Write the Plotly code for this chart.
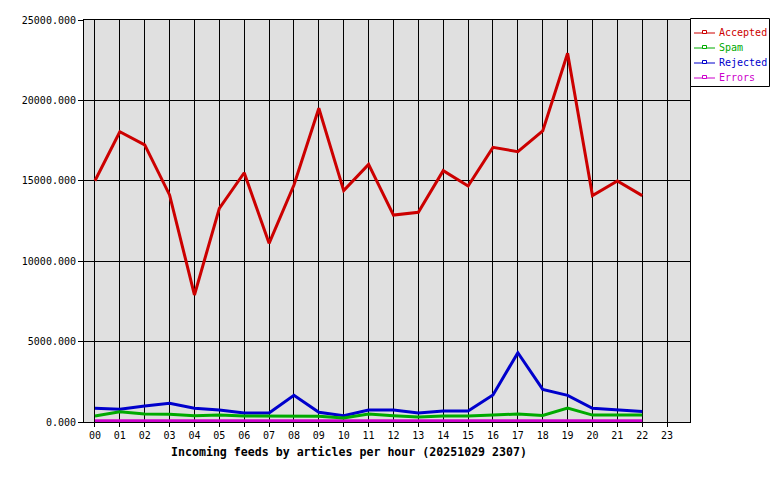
import plotly.graph_objects as go

hours = ["00", "01", "02", "03", "04", "05", "06", "07", "08", "09", "10", "11",
         "12", "13", "14", "15", "16", "17", "18", "19", "20", "21", "22", "23"]
x_data = list(range(23))  # hours 00..22 have data

accepted = [15000, 18050, 17230, 14120, 7900, 13290, 15500, 11110, 14740, 19510, 14390, 16020,
            12870, 13040, 15630, 14680, 17080, 16810, 18100, 22930, 14080, 14990, 14080]
spam = [370, 640, 500, 480, 390, 430, 370, 370, 350, 350, 250, 500,
        390, 310, 370, 370, 430, 500, 410, 870, 430, 430, 430]
rejected = [850, 790, 1000, 1160, 850, 750, 560, 560, 1660, 600, 390, 750,
            750, 560, 680, 680, 1680, 4310, 2030, 1660, 850, 750, 660]
errors = [80] * 23

series_names = ["Accepted", "Spam", "Rejected", "Errors"]
series_values = [accepted, spam, rejected, errors]
series_colors = ["#cc0000", "#00aa00", "#0000cc", "#cc00cc"]

W, H = 780, 480
ML, MR, MT, MB = 84, 90, 20, 58
PW, PH = W - ML - MR, H - MT - MB


def px_x(p):
    return (p - ML) / PW


def px_y(p):
    return (H - MB - p) / PH


fig = go.Figure()
for name, vals, col in reversed(list(zip(series_names, series_values, series_colors))):
    fig.add_trace(go.Scatter(
        x=x_data, y=vals, mode="lines", name=name,
        line=dict(color=col, width=3),
        showlegend=False,
    ))

FONT = "DejaVu Sans Mono"

# legend box (drawn in paper space, outside the plot area)
shapes = [dict(type="rect", xref="paper", yref="paper",
               x0=px_x(690.5), x1=px_x(769.5), y0=px_y(86.5), y1=px_y(18.5),
               line=dict(color="black", width=1), fillcolor="white", layer="above")]
annotations = []
for i, (name, col) in enumerate(zip(series_names, series_colors)):
    yy = 33 + i * 15
    shapes.append(dict(type="line", xref="paper", yref="paper",
                       x0=px_x(694), x1=px_x(715), y0=px_y(yy), y1=px_y(yy),
                       line=dict(color=col, width=1), layer="above"))
    shapes.append(dict(type="rect", xref="paper", yref="paper",
                       x0=px_x(702.5), x1=px_x(706.5), y0=px_y(yy + 0.5), y1=px_y(yy - 2.5),
                       line=dict(color=col, width=1), fillcolor="white", layer="above"))
    annotations.append(dict(text=name, xref="paper", yref="paper",
                            x=px_x(717), y=px_y(yy - 0.5), xanchor="left", yanchor="middle",
                            showarrow=False, font=dict(family=FONT, size=10, color=col)))

annotations.append(dict(
    text="<b>Incoming feeds by articles per hour (20251029 2307)</b>",
    xref="paper", yref="paper", x=px_x(349), y=px_y(452),
    xanchor="center", yanchor="middle", showarrow=False,
    font=dict(family=FONT, size=11.6, color="black"),
))

fig.update_layout(
    width=W, height=H,
    margin=dict(l=ML, r=MR, t=MT, b=MB, autoexpand=False),
    paper_bgcolor="white",
    plot_bgcolor="#e0e0e0",
    font=dict(family=FONT, size=10, color="black"),
    showlegend=False,
    xaxis=dict(
        range=[-0.44, 23.92], automargin=False,
        tickmode="array", tickvals=list(range(24)), ticktext=hours,
        showgrid=True, gridcolor="black", gridwidth=1,
        showline=True, linecolor="black", linewidth=1, mirror=True,
        ticks="outside", ticklen=4, tickcolor="black",
        zeroline=False,
        tickfont=dict(family=FONT, size=10),
    ),
    yaxis=dict(
        range=[0, 25000], automargin=False,
        tickmode="array", tickvals=[0, 5000, 10000, 15000, 20000, 25000],
        tickformat=".3f",
        showgrid=True, gridcolor="black", gridwidth=1,
        showline=True, linecolor="black", linewidth=1, mirror=True,
        ticks="outside", ticklen=5, tickcolor="black",
        zeroline=False,
        tickfont=dict(family=FONT, size=10),
    ),
    shapes=shapes,
    annotations=annotations,
)

fig.write_html("out.html", config={"displayModeBar": False},
               post_script="document.body.style.margin='0';")
